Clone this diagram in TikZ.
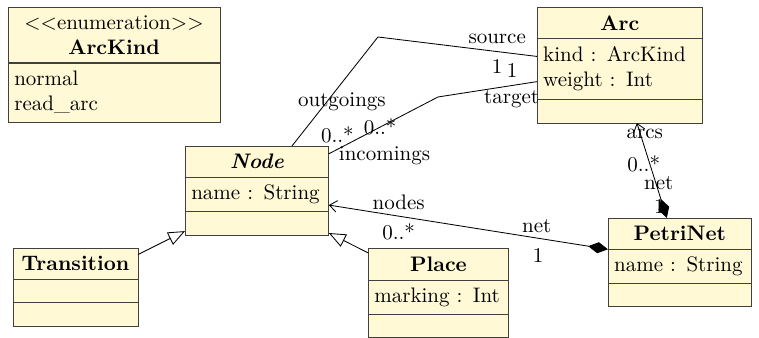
\documentclass[tikz,border=0pt]{standalone}
\usepackage{tikz}
\usetikzlibrary{positioning,arrows.meta}
\definecolor{umlfill}{RGB}{255,249,214}
\colorlet{umldraw}{black!75}

\begin{document}
\begin{tikzpicture}[
    classhead/.style={draw=umldraw,fill=umlfill,outer sep=0pt,inner xsep=3pt,inner ysep=4pt,
      minimum height=14.3pt,text width=#1,align=center,font=\bfseries},
    classattr/.style={draw=umldraw,fill=umlfill,outer sep=0pt,inner xsep=3pt,inner ysep=3.5pt,
      minimum height=16.2pt,text width=#1,align=left},
    classops/.style={classattr=#1,minimum height=11.2pt},
    compo/.style={arrows={Straight Barb[length=3.5pt,width=5.5pt]-Diamond[length=9.5pt,width=5.3pt]}},
    inherit/.style={-{Triangle[open,length=8pt,width=6.5pt]}},
    role/.style={inner sep=1pt}]
    \useasboundingbox (0,0) rectangle (12.70,-5.64);

    % enumeration
    \node[classhead=94.9pt,anchor=north west] (arckind) at (0.134,-0.117)
        {{\mdseries\mbox{\textless}\mbox{\textless}enumeration\mbox{\textgreater}\mbox{\textgreater}}\\ArcKind};
    \node[classattr=94.9pt,below=0pt of arckind,minimum height=28.1pt] (arckind-val) {normal\\read\_arc};

    % classes
    \node[classhead=73pt,anchor=north west] (arc) at (8.984,-0.117) {Arc};
    \node[classattr=73pt,below=0pt of arc,minimum height=29pt] (arc-attr) {kind : ArcKind\\weight : Int};
    \node[classops=73pt,below=0pt of arc-attr] (arc-ops) {};

    \node[classhead=62.5pt,anchor=north west] (petrinet) at (10.172,-3.647) {PetriNet};
    \node[classattr=62.5pt,below=0pt of petrinet] (petrinet-attr) {name : String};
    \node[classops=62.5pt,below=0pt of petrinet-attr] (petrinet-ops) {};

    \node[classhead=62.5pt,anchor=north west] (netnode) at (3.095,-2.443) {\textit{Node}};
    \node[classattr=62.5pt,below=0pt of netnode] (netnode-attr) {name : String};
    \node[classops=62.5pt,below=0pt of netnode-attr] (netnode-ops) {};

    \node[classhead=53.5pt,anchor=north west] (transition) at (0.217,-4.149) {Transition};
    \node[classops=53.5pt,below=0pt of transition] (transition-attr) {};
    \node[classops=53.5pt,below=0pt of transition-attr] (transition-ops) {};

    \node[classhead=61.1pt,anchor=north west] (place) at (6.157,-4.160) {Place};
    \node[classattr=61.1pt,below=0pt of place] (place-attr) {marking : Int};
    \node[classops=61.1pt,below=0pt of place-attr,minimum height=11pt] (place-ops) {};

    % associations
    \draw ([xshift=16.7pt]netnode.north) -- (6.324,-0.619)
            node[role,pos=0.41,xshift=7pt] (r-out) {outgoings}
            node[role,pos=0.1,xshift=17.5pt] (m-out) {0..*}
        -- ([yshift=6pt]arc-attr.west)
            node[role,pos=0.75,yshift=6.1pt] (r-src) {source}
            node[role,pos=0.75,yshift=-7.2pt] (m-src) {1};
    \draw ([yshift=3.8pt]netnode.east) -- (7.328,-1.623)
            node[role,pos=0.51,yshift=-14.8pt] (r-in) {incomings}
            node[role,pos=0.47] (m-in) {0..*}
        -- ([yshift=-6pt]arc-attr.west)
            node[role,pos=0.75,yshift=6.9pt] (m-tgt) {1}
            node[role,pos=0.745,yshift=-6.7pt] (r-tgt) {target};
    \draw[compo] ([xshift=8.1pt]arc-ops.south) -- ([xshift=-6.2pt]petrinet.north)
        node[role,pos=0.11,xshift=2.2pt] (r-arcs) {arcs}
        node[role,pos=0.43,xshift=-2.9pt] (m-arcs) {0..*}
        node[role,pos=0.63,xshift=1.4pt] (r-anet) {net}
        node[role,pos=0.88,xshift=-1.9pt] (m-anet) {1};
    \draw[compo] ([yshift=-5pt]netnode-attr.east) -- (petrinet.south west)
        node[role,pos=0.25,yshift=6.7pt] (r-nodes) {nodes}
        node[role,pos=0.25,yshift=-7.6pt] (m-nodes) {0..*}
        node[role,pos=0.745,yshift=5.5pt] (r-nnet) {net}
        node[role,pos=0.75,yshift=-8.3pt] (m-nnet) {1};

    % inheritance
    \draw[inherit] ([yshift=4.3pt]transition.east) -- ([yshift=1.9pt]netnode-ops.south west);
    \draw[inherit] ([yshift=5.5pt]place.west) -- ([yshift=1pt]netnode-ops.south east);
\end{tikzpicture}
\end{document}
